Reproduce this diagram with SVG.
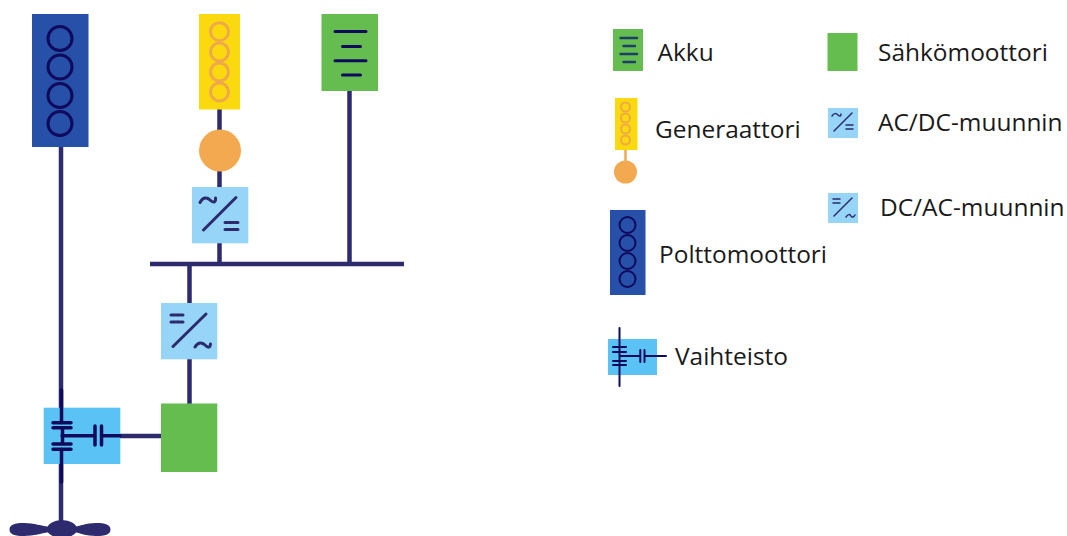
<svg xmlns="http://www.w3.org/2000/svg" width="1067" height="536" viewBox="0 0 1067 536">
<style>
text{font-family:"Open Sans","Noto Sans",sans-serif;font-size:24.450px;fill:#1a1a1a}
.w{stroke:#2e2a6e;stroke-width:4.500;fill:none}
.d{stroke:#0f0a5c;fill:none;stroke-linecap:round}
.bl{fill:#2750a8}
.ye{fill:#fbd90f}
.gr{fill:#65bd50}
.cv{fill:#96d5f8}
.gb{fill:#5bc2f5}
.or{fill:#f3a94f}
</style>
<rect width="1067" height="536" fill="#fff"/>
<g id="connectors">
<path class="w" d="M61 147V522M219.500 109V132M219.500 170V187M219.500 243V264M349.500 91V264M189.500 264V303M189.500 359V404M150 264H404"/>
<path class="w" d="M105 436H161"/>
</g>
<g id="engine"><rect class="bl" x="32" y="14" width="56.500" height="133"/>
<g class="d" stroke-width="3"><circle cx="60" cy="38.500" r="12"/><circle cx="60" cy="67" r="12"/><circle cx="60" cy="95.500" r="12"/><circle cx="60" cy="123.500" r="12"/></g></g>
<g id="generator"><rect class="ye" x="199" y="14" width="41" height="95.500"/>
<g fill="none" stroke="#f0a94a" stroke-width="3"><circle cx="219.500" cy="31.700" r="9"/><circle cx="219.500" cy="52" r="9"/><circle cx="219.500" cy="72" r="9"/><circle cx="219.500" cy="92" r="9"/></g>
<circle class="or" cx="220" cy="150.500" r="21"/></g>
<g id="battery"><rect class="gr" x="321.500" y="14" width="56.500" height="77"/>
<g class="d" stroke-width="3"><path d="M335 31.500H366M342.500 46.500H360.500M335 60.800H366M342.500 75H360.500"/></g></g>
<g id="acdc"><rect class="cv" x="192" y="187" width="56.300" height="56.300"/>
<g stroke="#2e2a6e" stroke-width="3" fill="none" stroke-linecap="round"><path d="M203.500 230L236 197.500M225 222.500H238M225 229.500H238M200 202.500C203 197 207 197 210 200S216 203 215.500 198"/></g></g>
<g id="dcac"><rect class="cv" x="161" y="303" width="56.300" height="56.300"/>
<g stroke="#2e2a6e" stroke-width="3" fill="none" stroke-linecap="round"><path d="M173 346.500L206 314M171 315H183M171 322H183M195 347C198 342 202 342 205 345S210 348 210.500 344"/></g></g>
<g id="motor"><rect class="gr" x="161" y="403.500" width="56.300" height="68.500"/></g>
<g id="gearbox"><rect class="gb" x="43.700" y="407.700" width="76.600" height="56.300"/>
<g class="d" stroke-width="3.500"><path d="M61.500 390V423M62.500 428V444M61.500 449V482M53 422.700H71M53 427.800H71M53 444H71M53 449.300H71M62 435.700H95M102 435.700H120M95 426V445M101.500 426V445"/></g></g>
<g id="propeller" fill="#2e2a6e"><ellipse cx="62" cy="529" rx="15" ry="9"/><path d="M9.500 529.500C9.500 524.500 15 523 24 523C34 523 42 526 50 527V532C42 533 34 536 24 536C15 536 9.500 534.500 9.500 529.500Z"/><path d="M110.500 529.500C110.500 524.500 105 523 96 523C86 523 80 526 74 527V532C80 533 86 536 96 536C105 536 110.500 534.500 110.500 529.500Z"/></g>
<g id="legend-battery"><rect class="gr" x="613" y="29" width="30" height="42"/>
<g stroke="#1d3d6a" stroke-width="2.400" stroke-linecap="round"><path d="M620.500 38H637M623.500 46H635M620.500 54H637M623.500 62H635"/></g>
<text x="657.500" y="61">Akku</text></g>
<g id="legend-generator"><rect class="ye" x="615" y="98" width="22.500" height="52"/>
<path d="M625.500 150V162" stroke="#f3a94f" stroke-width="2.500" fill="none"/>
<g fill="none" stroke="#f0a94a" stroke-width="2"><circle cx="625.500" cy="107" r="4.500"/><circle cx="625.500" cy="118" r="4.500"/><circle cx="625.500" cy="129" r="4.500"/><circle cx="625.500" cy="140" r="4.500"/></g>
<circle class="or" cx="625.500" cy="172" r="11.500"/>
<text x="655" y="138">Generaattori</text></g>
<g id="legend-engine"><rect class="bl" x="610" y="210" width="35.500" height="85"/>
<g class="d" stroke-width="2"><circle cx="627.500" cy="225" r="8"/><circle cx="627.500" cy="243" r="8"/><circle cx="627.500" cy="261" r="8"/><circle cx="627.500" cy="279" r="8"/></g>
<text x="659" y="263">Polttomoottori</text></g>
<g id="legend-gearbox"><rect class="gb" x="608" y="339" width="49" height="36"/>
<g class="d" stroke-width="2"><path d="M619.500 328V386M613 347H626M613 352H626M613 361H626M613 365H626M620 356H640M645 356H666M640.300 350V362M644.500 350V362"/></g>
<text x="675" y="365">Vaihteisto</text></g>
<g id="legend-motor"><rect class="gr" x="827.500" y="33" width="30" height="38"/><text x="878" y="61">Sähkömoottori</text></g>
<g id="legend-acdc"><rect class="cv" x="828" y="108" width="30" height="30"/>
<g stroke="#2e2a6e" stroke-width="1.500" fill="none" stroke-linecap="round"><path d="M834 131L852 113M846 125H853M846 129H853M832 116C834 113 836 113 838 115S841 116 841 114"/></g>
<text x="878" y="131">AC/DC-muunnin</text></g>
<g id="legend-dcac"><rect class="cv" x="828" y="193" width="30" height="30"/>
<g stroke="#2e2a6e" stroke-width="1.500" fill="none" stroke-linecap="round"><path d="M834 216L852 198M833 199H840M833 203H840M846 217C848 214 850 214 851 216S854 217 855 215"/></g>
<text x="880" y="216">DC/AC-muunnin</text></g>
</svg>
